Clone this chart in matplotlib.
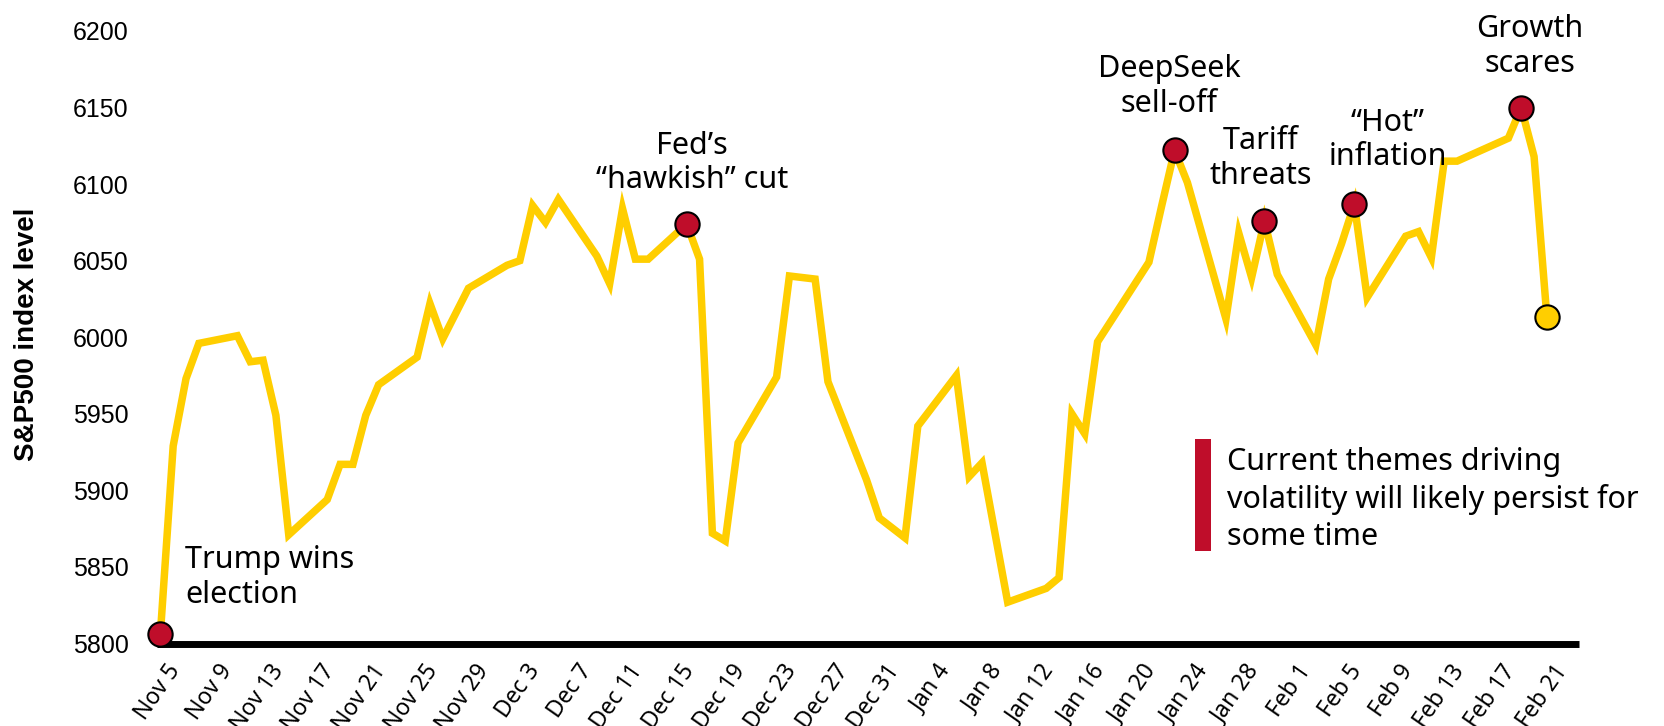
import matplotlib
matplotlib.use("Agg")
import matplotlib.pyplot as plt
from matplotlib.patches import Rectangle
from matplotlib.transforms import ScaledTranslation
import pandas as pd

# S&P 500 closing levels, trading days only
dates = [
    "2024-11-05", "2024-11-06", "2024-11-07", "2024-11-08", "2024-11-11", "2024-11-12",
    "2024-11-13", "2024-11-14", "2024-11-15", "2024-11-18", "2024-11-19", "2024-11-20",
    "2024-11-21", "2024-11-22", "2024-11-25", "2024-11-26", "2024-11-27", "2024-11-29",
    "2024-12-02", "2024-12-03", "2024-12-04", "2024-12-05", "2024-12-06", "2024-12-09",
    "2024-12-10", "2024-12-11", "2024-12-12", "2024-12-13", "2024-12-16", "2024-12-17",
    "2024-12-18", "2024-12-19", "2024-12-20", "2024-12-23", "2024-12-24", "2024-12-26",
    "2024-12-27", "2024-12-30", "2024-12-31", "2025-01-02", "2025-01-03", "2025-01-06",
    "2025-01-07", "2025-01-08", "2025-01-10", "2025-01-13", "2025-01-14", "2025-01-15",
    "2025-01-16", "2025-01-17", "2025-01-21", "2025-01-22", "2025-01-23", "2025-01-24",
    "2025-01-27", "2025-01-28", "2025-01-29", "2025-01-30", "2025-01-31", "2025-02-03",
    "2025-02-04", "2025-02-05", "2025-02-06", "2025-02-07", "2025-02-10", "2025-02-11",
    "2025-02-12", "2025-02-13", "2025-02-14", "2025-02-18", "2025-02-19", "2025-02-20",
    "2025-02-21",
]
closes = [
    5806, 5929, 5973, 5996, 6001, 5984,
    5985, 5949, 5871, 5894, 5917, 5917,
    5949, 5969, 5987, 6022, 5999, 6032,
    6047, 6050, 6086, 6075, 6090, 6053,
    6035, 6084, 6051, 6051, 6074, 6051,
    5872, 5867, 5931, 5974, 6040, 6038,
    5971, 5907, 5882, 5869, 5942, 5975,
    5909, 5918, 5827, 5836, 5843, 5950,
    5937, 5997, 6049, 6086, 6122, 6101,
    6012, 6068, 6039, 6076, 6041, 5995,
    6038, 6061, 6087, 6026, 6066, 6069,
    6052, 6115, 6115, 6130, 6150, 6118,
    6013,
]

event_dates = ["2024-11-05", "2024-12-16", "2025-01-23", "2025-01-30", "2025-02-06", "2025-02-19"]
event_labels = [
    "Trump wins\nelection",
    "Fed\u2019s\n\u201chawkish\u201d cut",
    "DeepSeek\nsell-off",
    "Tariff\nthreats",
    "\u201cHot\u201d\ninflation",
    "Growth\nscares",
]
# label offsets from each marker, in points
label_offsets = [(18, 41), (4, 44), (-4, 46), (-3, 45), (24, 46), (6, 44)]
label_align = ["left", "center", "center", "center", "center", "center"]

tick_labels = [
    "Nov 5", "Nov 9", "Nov 13", "Nov 17", "Nov 21", "Nov 25", "Nov 29",
    "Dec 3", "Dec 7", "Dec 11", "Dec 15", "Dec 19", "Dec 23", "Dec 27", "Dec 31",
    "Jan 4", "Jan 8", "Jan 12", "Jan 16", "Jan 20", "Jan 24", "Jan 28",
    "Feb 1", "Feb 5", "Feb 9", "Feb 13", "Feb 17", "Feb 21",
]
y_ticks = [5800, 5850, 5900, 5950, 6000, 6050, 6100, 6150, 6200]

note_text = "Current themes driving\nvolatility will likely persist for\nsome time"

YELLOW = "#FFCE00"
RED = "#BF0D2A"
TEXT_FONT = ["Noto Sans", "DejaVu Sans"]
TICK_FONT = ["Liberation Sans", "DejaVu Sans"]

s = pd.Series(closes, index=pd.to_datetime(dates))
tick_pos = pd.date_range("2024-11-05", "2025-02-21", freq="4D")

W, H = 1664, 726
fig = plt.figure(figsize=(W / 100, H / 100), dpi=100)
ax = fig.add_axes([156.6 / W, 1 - 643.5 / H, (1579 - 156.6) / W, (643.5 - 31) / H])

ax.plot(s.index, s.values, color=YELLOW, lw=5.4, solid_joinstyle="miter",
        zorder=3, clip_on=False)

ev = s.loc[pd.to_datetime(event_dates)]
ax.plot(ev.index, ev.values, "o", ms=17.5, mfc=RED, mec="black", mew=1.5,
        zorder=5, clip_on=False)
ax.plot(s.index[-1:], s.values[-1:], "o", ms=17.5, mfc=YELLOW, mec="black",
        mew=1.5, zorder=5, clip_on=False)

for d, v, lab, off, ha in zip(ev.index, ev.values, event_labels, label_offsets, label_align):
    ax.annotate(lab, (d, v), xytext=off, textcoords="offset points",
                ha=ha, va="center", fontsize=22, family=TEXT_FONT,
                color="black", annotation_clip=False)

ax.set_xlim(pd.Timestamp("2024-11-05") - pd.Timedelta(hours=7),
            pd.Timestamp("2025-02-21") + pd.Timedelta(days=2.5))
ax.set_ylim(5800, 6200)

ax.set_xticks(tick_pos)
ax.set_xticklabels(tick_labels)
ax.set_yticks(y_ticks)
ax.set_yticklabels([str(v) for v in y_ticks])
ax.tick_params(axis="x", length=0, pad=12, labelsize=16.5)
ax.tick_params(axis="y", length=0, pad=20, labelsize=18)
shift = ScaledTranslation(6 / 100, 0, fig.dpi_scale_trans)
for t in ax.get_xticklabels():
    t.set_rotation(55)
    t.set_ha("right")
    t.set_va("top")
    t.set_rotation_mode("anchor")
    t.set_family(TEXT_FONT)
    t.set_transform(t.get_transform() + shift)
for t in ax.get_yticklabels():
    t.set_family(TICK_FONT)

for side in ["top", "right", "left"]:
    ax.spines[side].set_visible(False)
ax.spines["bottom"].set_linewidth(5)
ax.spines["bottom"].set_color("black")
ax.spines["bottom"].set_capstyle("butt")

fig.text(27 / W, 1 - 334 / H, "S&P500 index level", rotation=90, ha="center",
         va="center", fontsize=20, fontweight="bold", family=TICK_FONT)

fig.add_artist(Rectangle((1195 / W, 1 - 551 / H), 16 / W, 112 / H,
                         transform=fig.transFigure, color=RED, lw=0))
fig.text(1227 / W, 1 - 499.5 / H, note_text, ha="left", va="center",
         fontsize=22, family=TEXT_FONT, linespacing=1.3)

fig.savefig("out.png", dpi=100)
